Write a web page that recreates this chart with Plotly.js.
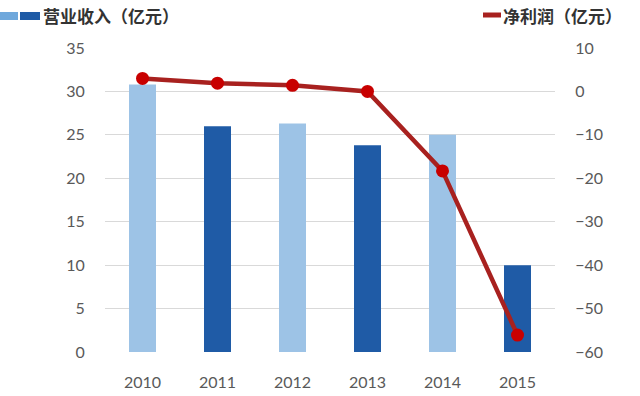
<!DOCTYPE html>
<html><head><meta charset="utf-8">
<script src="https://cdn.plot.ly/plotly-3.0.1.min.js"></script>
<style>html,body{margin:0;padding:0;background:#fff}#c{width:640px;height:396px}</style>
</head><body><div id="c"></div>
<script>
const years = ['2010','2011','2012','2013','2014','2015'];
const revenue = [30.8, 26.0, 26.3, 23.8, 25.0, 10.0];
const profit = [3.0, 1.9, 1.4, 0.0, -18.3, -56.1];
const barColors = ['#9dc3e6','#1f5ba6','#9dc3e6','#1f5ba6','#9dc3e6','#1f5ba6'];
const revLabel = '营业收入（亿元）';
const profitLabel = '净利润（亿元）';

const L = 105, R = 555, T = 48, B = 352;
const W = R - L, H = B - T;
const px = x => (x - L) / W;
const py = y => (B - y) / H;
const tickFont = {family:'Lato, Liberation Sans, sans-serif', size:16, color:'#595959'};
const data = [
  {type:'bar', x:years, y:revenue, marker:{color:barColors}, width:0.36, showlegend:false, hoverinfo:'skip'},
  {type:'scatter', mode:'lines+markers', x:years, y:profit, yaxis:'y2', showlegend:false,
   line:{color:'#a8211f', width:4.5}, marker:{color:'#c80000', size:13}}
];
const layout = {
  width:640, height:396, margin:{l:L, r:640-R, t:T, b:396-B},
  paper_bgcolor:'#fff', plot_bgcolor:'#fff',
  xaxis:{tickfont:tickFont, showgrid:false, zeroline:false, showline:false, ticks:'outside', ticklen:16, tickcolor:'rgba(0,0,0,0)'},
  yaxis:{range:[0,35], dtick:5, tickfont:tickFont, gridcolor:'#d9d9d9', gridwidth:1, zeroline:false, showline:false, ticks:'outside', ticklen:16, tickcolor:'rgba(0,0,0,0)'},
  yaxis2:{range:[-60,10], dtick:10, overlaying:'y', side:'right', tickfont:tickFont, showgrid:false, zeroline:false, showline:false, ticks:'outside', ticklen:16, tickcolor:'rgba(0,0,0,0)'},
  shapes:[
    {type:'rect', xref:'paper', yref:'paper', x0:px(0), x1:px(18), y0:py(20), y1:py(12), fillcolor:'#6fa8dc', line:{width:0}},
    {type:'rect', xref:'paper', yref:'paper', x0:px(20), x1:px(40), y0:py(20), y1:py(12), fillcolor:'#1f5ba6', line:{width:0}},
    {type:'line', xref:'paper', yref:'paper', x0:px(483), x1:px(501), y0:py(15), y1:py(15), line:{color:'#a8211f', width:5}}
  ],
  annotations:[
    {xref:'paper', yref:'paper', x:px(41), y:py(16), xanchor:'left', yanchor:'middle', showarrow:false, text:'<b>'+revLabel+'</b>', font:{family:'Noto Sans CJK SC', size:17, color:'#333'}},
    {xref:'paper', yref:'paper', x:px(501), y:py(16), xanchor:'left', yanchor:'middle', showarrow:false, text:'<b>'+profitLabel+'</b>', font:{family:'Noto Sans CJK SC', size:17, color:'#333'}}
  ]
};
Plotly.newPlot('c', data, layout, {displayModeBar:false, staticPlot:true});
</script></body></html>
